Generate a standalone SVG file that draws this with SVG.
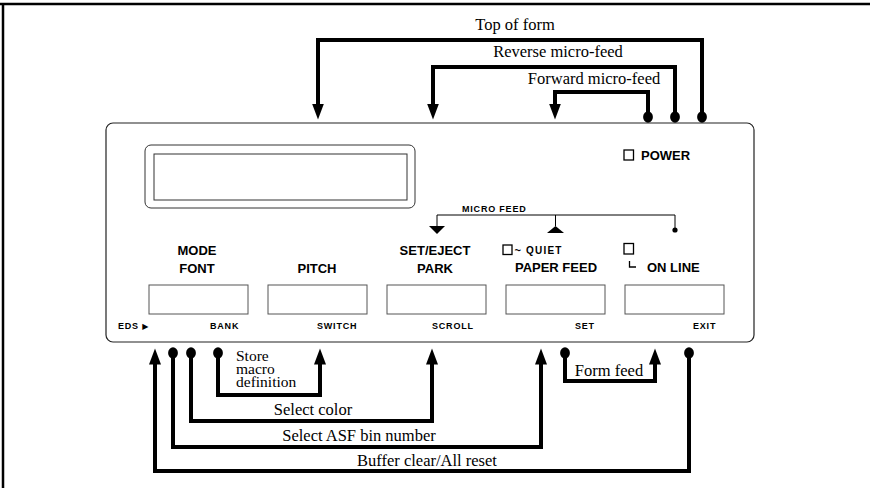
<svg xmlns="http://www.w3.org/2000/svg" width="870" height="488" viewBox="0 0 870 488">
<style>
.frame{stroke:#000;stroke-width:2.5;fill:none}
.panel{fill:none;stroke:#222;stroke-width:1.2}
.disp{fill:none;stroke:#333;stroke-width:1}
.btn{fill:none;stroke:#555;stroke-width:1}
.lbl{font-family:"Liberation Sans",Arial,sans-serif;font-weight:bold;font-size:13px;fill:#000;text-anchor:middle}
.lbls{font-family:"Liberation Sans",Arial,sans-serif;font-weight:bold;font-size:13px;fill:#000}
.sm{font-family:"Liberation Sans",Arial,sans-serif;font-weight:bold;font-size:9px;letter-spacing:0.8px;fill:#000}
.ser{font-family:"Liberation Serif","Times New Roman",serif;font-size:16.5px;fill:#000}
.ser2{font-family:"Liberation Serif","Times New Roman",serif;font-size:15.5px;fill:#000}
.mid{text-anchor:middle}
.conn{fill:none;stroke:#000;stroke-width:4;stroke-linejoin:miter}
.lamp{fill:none;stroke:#000;stroke-width:1.3}
.thin{fill:none;stroke:#000;stroke-width:1}
</style>
<defs>
<marker id="arr" markerUnits="userSpaceOnUse" viewBox="0 -7 17 14" markerWidth="17" markerHeight="14" refX="0.5" refY="0" orient="auto"><path d="M0,-6 L16,0 L0,6 Z" fill="#000"/></marker>
<marker id="dot" markerUnits="userSpaceOnUse" viewBox="-6 -7 12 14" markerWidth="12" markerHeight="14" refX="0" refY="0" orient="0"><ellipse cx="0" cy="0" rx="4.9" ry="5.8" fill="#000"/></marker>
</defs>
<rect width="870" height="488" fill="#fff"/>
<g id="frame">
<line class="frame" x1="0" y1="4" x2="870" y2="4"/>
<line class="frame" x1="3" y1="3" x2="3" y2="488"/>
</g>
<g id="panel">
<rect class="panel" x="106" y="123" width="648" height="219" rx="7"/>
</g>
<g id="display">
<rect class="disp" x="145" y="145" width="270" height="63" rx="6"/>
<rect class="disp" x="154" y="154" width="253" height="46"/>
</g>
<g id="power">
<rect class="lamp" x="624" y="150" width="9.5" height="10"/>
<text class="lbls" x="641" y="159.5">POWER</text>
</g>
<g id="micro-feed">
<text class="sm" x="462" y="212">MICRO FEED</text>
<path class="thin" d="M437,226 V215 H675 V230 M555.5,215 V226"/>
<polygon points="429,226 445,226 437,234" fill="#000"/>
<polygon points="547,233 564,233 555.5,226" fill="#000"/>
<circle cx="675" cy="230" r="2.6" fill="#000"/>
</g>
<g id="btn-font">
<rect class="btn" x="149" y="285" width="99" height="29"/>
<text class="lbl" x="197" y="255">MODE</text>
<text class="lbl" x="197" y="273">FONT</text>
<text class="sm" x="210" y="329">BANK</text>
</g>
<g id="btn-pitch">
<rect class="btn" x="268" y="285" width="99" height="29"/>
<text class="lbl" x="317" y="273">PITCH</text>
<text class="sm" x="317" y="329">SWITCH</text>
</g>
<g id="btn-park">
<rect class="btn" x="387" y="285" width="99" height="29"/>
<text class="lbl" x="435" y="255">SET/EJECT</text>
<text class="lbl" x="435" y="273">PARK</text>
<text class="sm" x="432" y="329">SCROLL</text>
</g>
<g id="btn-paper-feed">
<rect class="btn" x="506" y="285" width="99" height="29"/>
<rect class="lamp" x="503" y="245" width="9" height="9.5"/>
<text class="lbls" x="514.5" y="254" style="font-size:11px">~</text>
<text class="sm" x="526" y="253.5" style="font-size:10px;letter-spacing:1.2px">QUIET</text>
<text class="lbl" x="556" y="272">PAPER FEED</text>
<text class="sm" x="575" y="329">SET</text>
</g>
<g id="btn-online">
<rect class="btn" x="625" y="285" width="99" height="29"/>
<rect class="lamp" x="624" y="243.5" width="9.5" height="10.5"/>
<path class="lamp" d="M629.5,261 V267 H636"/>
<text class="lbls" x="647" y="272">ON LINE</text>
<text class="sm" x="693" y="329">EXIT</text>
</g>
<g id="eds">
<text class="sm" x="118" y="329">EDS <tspan style="font-family:'DejaVu Sans',sans-serif;font-size:8px">▶</tspan></text>
</g>
<g id="connectors">
<path class="conn" d="M702,117 V40 H318 V104" marker-start="url(#dot)" marker-end="url(#arr)"/>
<path class="conn" d="M675,117 V67 H433 V104" marker-start="url(#dot)" marker-end="url(#arr)"/>
<path class="conn" d="M648,117 V92 H555 V104" marker-start="url(#dot)" marker-end="url(#arr)"/>
<path class="conn" d="M689,353 V471 H155 V364" marker-start="url(#dot)" marker-end="url(#arr)"/>
<path class="conn" d="M173,353 V447 H541 V364" marker-start="url(#dot)" marker-end="url(#arr)"/>
<path class="conn" d="M191,353 V421 H432 V364" marker-start="url(#dot)" marker-end="url(#arr)"/>
<path class="conn" d="M218,353 V395 H320 V364" marker-start="url(#dot)" marker-end="url(#arr)"/>
<path class="conn" d="M565,353 V381 H655 V364" marker-start="url(#dot)" marker-end="url(#arr)"/>
</g>
<g id="connector-labels">
<text class="ser mid" x="515" y="30">Top of form</text>
<text class="ser mid" x="558" y="57">Reverse micro-feed</text>
<text class="ser mid" x="594" y="84">Forward micro-feed</text>
<text class="ser2" x="236" y="361"><tspan x="236" y="361">Store</tspan><tspan x="236" y="374">macro</tspan><tspan x="236" y="387">definition</tspan></text>
<text class="ser mid" x="313" y="415">Select color</text>
<text class="ser mid" x="359" y="441">Select ASF bin number</text>
<text class="ser mid" x="427" y="466">Buffer clear/All reset</text>
<text class="ser mid" x="609" y="376">Form feed</text>
</g>
</svg>
